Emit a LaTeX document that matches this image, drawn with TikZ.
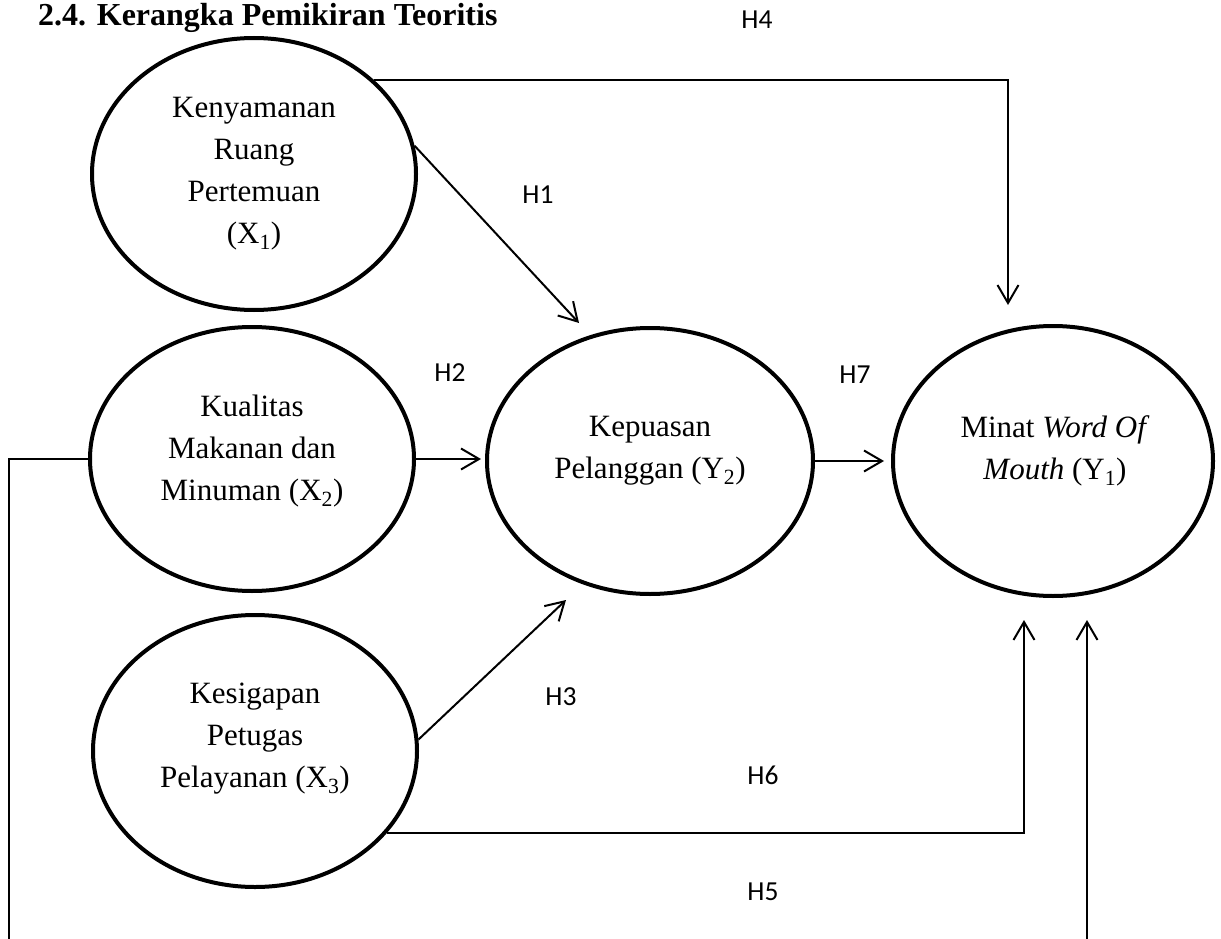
\documentclass[tikz,border=0pt]{standalone}
\usepackage{fontspec}
\setmainfont{Liberation Serif}
\newfontfamily\hfont{Carlito}
\usetikzlibrary{arrows.meta,shapes.geometric}
\begin{document}
\begin{tikzpicture}[x=1pt,y=-1pt,
  ell/.style={ellipse,draw,line width=4pt,inner sep=0pt},
  lbl/.style={font=\fontsize{31}{42}\selectfont,align=center,inner sep=0pt},
  hyp/.style={font=\hfont\fontsize{27.5}{33}\selectfont,inner sep=0pt},
  conn/.style={line width=2pt,-{Straight Barb[length=18pt,width=21pt]}}]
\useasboundingbox (0,0) rectangle (1221,939);
\node[anchor=base west,font=\bfseries\fontsize{32}{38}\selectfont,inner sep=0pt] (title) at (38,26) {2.4. Kerangka Pemikiran Teoritis};

% ellipses
\node[ell,minimum width=324pt,minimum height=272pt] (x1) at (254,174) {};
\node[ell,minimum width=324pt,minimum height=264pt] (x2) at (252,459) {};
\node[ell,minimum width=324pt,minimum height=272pt] (x3) at (255,751) {};
\node[ell,minimum width=326pt,minimum height=266pt] (y2) at (650,461) {};
\node[ell,minimum width=320pt,minimum height=270pt] (y1) at (1053,461) {};

% texts
\node[lbl] (x1t) at (254,174) {Kenyamanan\\Ruang\\Pertemuan\\(X\textsubscript{1})};
\node[lbl] (x2t) at (252,451) {Kualitas\\Makanan dan\\Minuman (X\textsubscript{2})};
\node[lbl] (x3t) at (255,739) {Kesigapan\\Petugas\\Pelayanan (X\textsubscript{3})};
\node[lbl] (y2t) at (650,451) {Kepuasan\\Pelanggan (Y\textsubscript{2})};
\node[lbl] (y1t) at (1055,451) {Minat \textit{Word Of}\\\textit{Mouth} (Y\textsubscript{1})};

% arrow end points
\coordinate (h1tip) at (579,323);
\coordinate (h2tip) at (481,459);
\coordinate (h7tip) at (884,461);
\coordinate (h3tip) at (566,600);
\coordinate (h4tip) at (1008,305);
\coordinate (h6tip) at (1024,620);
\coordinate (h5tip) at (1087,620);
\coordinate (h5bl) at (9,970);

% connectors
\draw[conn] (x1.10) -- (h1tip);
\draw[conn] (x2.east) -- (h2tip);
\draw[conn] (y2.east) -- (h7tip);
\draw[conn] (x3.4) -- (h3tip);
\draw[conn] (x1.38) -| (h4tip);
\draw[conn] (x3.-32) -| (h6tip);
\draw[conn] (x2.west) -| (h5bl) -| (h5tip);

% hypothesis labels
\node[hyp] (lh4) at (757,20) {H4};
\node[hyp] (lh1) at (538,195) {H1};
\node[hyp] (lh2) at (450,373) {H2};
\node[hyp] (lh7) at (855,375) {H7};
\node[hyp] (lh3) at (561,697) {H3};
\node[hyp] (lh6) at (763,775) {H6};
\node[hyp] (lh5) at (763,892) {H5};
\end{tikzpicture}
\end{document}
